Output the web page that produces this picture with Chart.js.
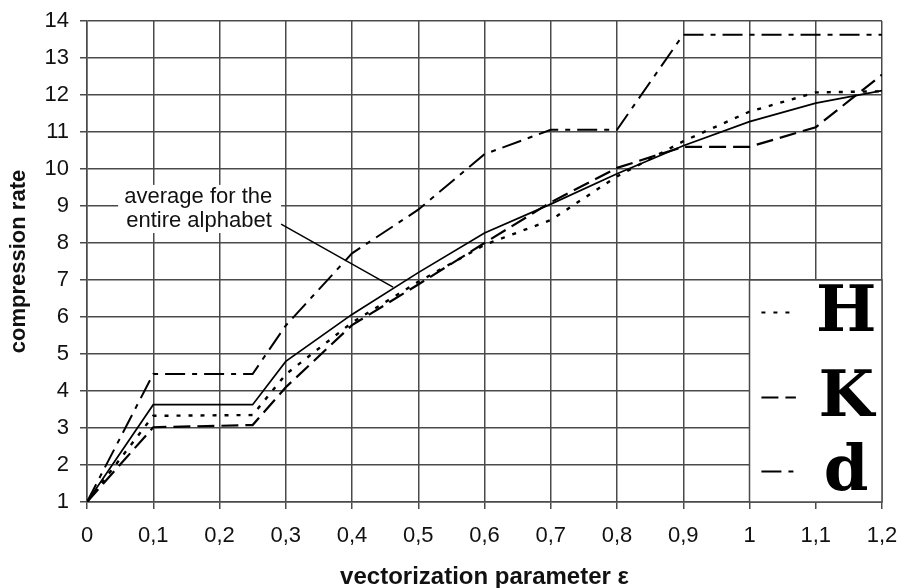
<!DOCTYPE html>
<html lang="en">
<head>
<meta charset="UTF-8" />
<title>Compression rate vs vectorization parameter</title>
<style>
  html, body { margin: 0; padding: 0; background: #fff; }
  #wrap { width: 901px; height: 588px; }
</style>
</head>
<body>
<div id="wrap"><canvas id="chart" width="901" height="588"></canvas></div>

<script src="https://cdn.jsdelivr.net/npm/chart.js"></script>
<script>
  // values
  const epsilon = [0, 0.1, 0.25, 0.3, 0.4, 0.5, 0.6, 0.7, 0.8, 0.9, 1.0, 1.1, 1.2];
  const average = [1, 3.63, 3.63, 4.8, 6.07, 7.2, 8.27, 9.05, 9.87, 10.63, 11.28, 11.78, 12.12];
  const letterH = [1, 3.33, 3.35, 4.45, 5.85, 6.95, 7.95, 8.62, 9.8, 10.75, 11.55, 12.07, 12.1];
  const letterK = [1, 3.02, 3.08, 4.1, 5.78, 6.88, 8.0, 9.1, 10.03, 10.6, 10.6, 11.13, 12.55];
  const letterD = [1, 4.46, 4.46, 5.77, 7.72, 8.9, 10.4, 11.06, 11.06, 13.63, 13.63, 13.63, 13.63];

  const xTickValues = [0, 0.1, 0.2, 0.3, 0.4, 0.5, 0.6, 0.7, 0.8, 0.9, 1, 1.1, 1.2];
  const xTickLabels = ['0', '0,1', '0,2', '0,3', '0,4', '0,5', '0,6', '0,7', '0,8', '0,9', '1', '1,1', '1,2'];
  const legendLetters = ['H', 'K', 'd'];
  const noteLines = ['average for the', 'entire alphabet'];

  const gridColor = '#4a4a4a';
  const textColor = '#111';
  const dotted = [4, 8];
  const dashed = [17, 7];
  const dashDot = [20, 7, 5, 7];

  Chart.defaults.font.family = '"Liberation Sans", Arial, sans-serif';
  Chart.defaults.color = textColor;

  function pts(ys) {
    return epsilon.map((x, i) => ({ x: x, y: ys[i] }));
  }

  function line(label, ys, dash, width) {
    return {
      label: label,
      data: pts(ys),
      borderColor: '#000',
      borderWidth: width,
      borderDash: dash,
      borderCapStyle: 'butt',
      pointRadius: 0,
      showLine: true,
      tension: 0,
      fill: false
    };
  }

  function noPadding(s) {
    s.paddingLeft = 0;
    s.paddingRight = 0;
    s.paddingTop = 0;
    s.paddingBottom = 0;
  }

  // legend box (letters) and the "average" note with its leader line
  const extras = {
    id: 'extras',
    afterDraw(chart) {
      const ctx = chart.ctx;
      const xs = chart.scales.x, ys = chart.scales.y;
      ctx.save();

      // note box
      const nl = xs.getPixelForValue(0.047), nr = xs.getPixelForValue(0.293);
      const nt = ys.getPixelForValue(9.57), nb = ys.getPixelForValue(8.27);
      ctx.fillStyle = '#fff';
      ctx.fillRect(nl, nt, nr - nl, nb - nt);
      ctx.fillStyle = textColor;
      ctx.font = '22px "Liberation Sans", Arial, sans-serif';
      ctx.textAlign = 'center';
      ctx.textBaseline = 'middle';
      ctx.fillText(noteLines[0], xs.getPixelForValue(0.168), ys.getPixelForValue(9.25));
      ctx.fillText(noteLines[1], xs.getPixelForValue(0.169), ys.getPixelForValue(8.6));
      ctx.strokeStyle = '#000';
      ctx.lineWidth = 1.5;
      ctx.beginPath();
      ctx.moveTo(xs.getPixelForValue(0.293), ys.getPixelForValue(8.51));
      ctx.lineTo(xs.getPixelForValue(0.462), ys.getPixelForValue(6.81));
      ctx.stroke();

      // legend box
      const l = xs.getPixelForValue(1), r = xs.getPixelForValue(1.2);
      const t = ys.getPixelForValue(7), b = ys.getPixelForValue(1);
      const w = r - l, h = b - t;
      ctx.fillStyle = '#fff';
      ctx.fillRect(l, t, w, h);
      ctx.strokeStyle = gridColor;
      ctx.lineWidth = 1.5;
      ctx.strokeRect(l, t, w, h);

      const rows = [0.146, 0.529, 0.859];
      const dashes = [dotted, dashed, dashDot];
      const widths = [2, 2.2, 2];
      ctx.font = 'bold 64px "DejaVu Serif", serif';
      rows.forEach((fy, i) => {
        const cy = Math.round(t + h * fy) + 0.5;
        ctx.strokeStyle = '#000';
        ctx.lineWidth = widths[i];
        ctx.setLineDash(dashes[i]);
        ctx.beginPath();
        ctx.moveTo(l + w * 0.09, cy);
        ctx.lineTo(l + w * 0.35, cy);
        ctx.stroke();
        ctx.setLineDash([]);
        ctx.fillStyle = '#000';
        ctx.fillText(legendLetters[i], l + w * 0.73, cy + 2);
      });
      ctx.restore();
    }
  };

  new Chart(document.getElementById('chart'), {
    type: 'scatter',
    data: {
      datasets: [
        line('average for the entire alphabet', average, [], 1.7),
        line('H', letterH, dotted, 2.4),
        line('K', letterK, dashed, 2.2),
        line('d', letterD, dashDot, 2)
      ]
    },
    options: {
      responsive: false,
      animation: false,
      layout: { padding: { top: 21, right: 19, left: 0, bottom: 0 } },
      plugins: {
        legend: { display: false },
        tooltip: { enabled: false }
      },
      scales: {
        x: {
          type: 'linear',
          min: 0,
          max: 1.2,
          afterFit(s) { s.height = 86; noPadding(s); },
          afterBuildTicks(s) { s.ticks = xTickValues.map(v => ({ value: v })); },
          ticks: {
            callback: (v, i) => xTickLabels[i],
            autoSkip: false,
            maxRotation: 0,
            padding: 14,
            color: textColor,
            font: { size: 22 }
          },
          grid: { color: gridColor, lineWidth: 1.5, tickLength: 7, tickColor: gridColor },
          border: { color: gridColor, width: 1.5 },
          title: {
            display: true,
            text: 'vectorization parameter ε',
            color: textColor,
            font: { size: 24, weight: 'bold' },
            padding: { top: 0, bottom: -4 }
          }
        },
        y: {
          min: 1,
          max: 14,
          afterFit(s) { s.width = 87; noPadding(s); },
          ticks: {
            stepSize: 1,
            padding: 11,
            color: textColor,
            font: { size: 22 }
          },
          grid: { color: gridColor, lineWidth: 1.5, tickLength: 7, tickColor: gridColor },
          border: { color: gridColor, width: 1.5 },
          title: {
            display: true,
            text: 'compression rate',
            color: textColor,
            font: { size: 22, weight: 'bold' },
            padding: { top: 6, bottom: 0 }
          }
        }
      }
    },
    plugins: [extras]
  });
</script>
</body>
</html>
